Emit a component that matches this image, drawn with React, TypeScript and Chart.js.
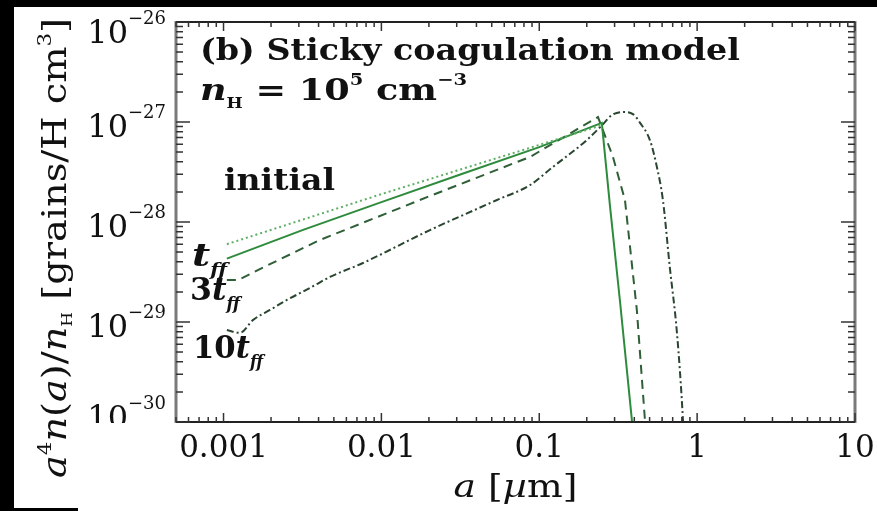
import React, { useEffect, useRef } from "react";
import { Chart, registerables } from "chart.js";

Chart.register(...registerables);

// ---- axis ranges & ticks ----
const X_MIN = 5e-4;
const X_MAX = 10;
const Y_MIN = 1e-30;
const Y_MAX = 1e-26;
const xTickValues = [0.001, 0.01, 0.1, 1, 10];
const xTickLabels = ["0.001", "0.01", "0.1", "1", "10"];
const yTickValues = [1e-26, 1e-27, 1e-28, 1e-29, 1e-30];
const yTickExponents = [-26, -27, -28, -29, -30];

// ---- series: grain radius a [µm] and a^4 n(a)/n_H ----
const initialA = [0.00105, 0.01, 0.1, 0.249];
const initialV = [6.0e-29, 1.9e-28, 5.9e-28, 9.3e-28];

const tffA = [0.00105, 0.00316, 0.01, 0.0316, 0.1, 0.249, 0.281, 0.324, 0.386, 0.392];
const tffV = [4.3e-29, 8.3e-29, 1.58e-28, 2.99e-28, 5.6e-28, 9.8e-28, 1.41e-28, 1.66e-29, 1.05e-30, 5e-31];

const t3A = [0.00105, 0.00124, 0.00165, 0.00408, 0.0203, 0.0873, 0.2355, 0.293, 0.349, 0.415, 0.467, 0.475];
const t3V = [2.63e-29, 2.63e-29, 3.31e-29, 6.61e-29, 1.82e-28, 4.47e-28, 1.12e-27, 4.47e-28, 1.66e-28, 1.32e-29, 1.05e-30, 5e-31];

const t10A = [0.00105, 0.00127, 0.00154, 0.00197, 0.00252, 0.00353, 0.00472, 0.00764, 0.0203, 0.054, 0.0873, 0.122, 0.2, 0.25, 0.288, 0.339, 0.392, 0.435, 0.502, 0.556, 0.607, 0.671, 0.745, 0.813, 0.83];
const t10V = [8.3e-30, 7.8e-30, 1.05e-29, 1.32e-29, 1.66e-29, 2.19e-29, 2.82e-29, 3.89e-29, 8.3e-29, 1.66e-28, 2.34e-28, 3.55e-28, 6.6e-28, 9.3e-28, 1.17e-27, 1.26e-27, 1.2e-27, 9.8e-28, 6.6e-28, 3.55e-28, 1.66e-28, 3.55e-29, 7.8e-30, 1.05e-30, 5e-31];

const FONT = '"DejaVu Serif", "Liberation Serif", serif';

type Seg = { t: string; size: number; italic?: boolean; bold?: boolean; dy?: number };

function segFont(s: Seg) {
  return `${s.italic ? "italic " : ""}${s.bold ? "bold " : ""}${s.size}px ${FONT}`;
}

function drawRich(
  ctx: CanvasRenderingContext2D,
  segs: Seg[],
  x: number,
  y: number,
  align: "left" | "center" | "right" = "left",
  fitWidth?: number
) {
  ctx.save();
  ctx.textAlign = "left";
  ctx.textBaseline = "alphabetic";
  const widths = segs.map((s) => {
    ctx.font = segFont(s);
    return ctx.measureText(s.t).width;
  });
  const total = widths.reduce((a, b) => a + b, 0);
  const sc = fitWidth ? fitWidth / total : 1;
  const w = total * sc;
  let sx = x;
  if (align === "center") sx = x - w / 2;
  else if (align === "right") sx = x - w;
  ctx.translate(sx, y);
  ctx.scale(sc, 1);
  let cx = 0;
  segs.forEach((s, i) => {
    ctx.font = segFont(s);
    ctx.fillText(s.t, cx, s.dy || 0);
    cx += widths[i];
  });
  ctx.restore();
}

const decorPlugin = {
  id: "decor",
  beforeDraw(chart: any) {
    const ctx: CanvasRenderingContext2D = chart.ctx;
    const W = chart.width;
    const H = chart.height;
    ctx.save();
    ctx.fillStyle = "#000";
    ctx.fillRect(0, 0, W, H);
    ctx.fillStyle = "#fff";
    ctx.fillRect(14, 7, W - 14, H - 7);
    ctx.fillStyle = "#000";
    ctx.fillRect(14, H - 3, 64, 3);
    ctx.restore();
  },
  afterDraw(chart: any) {
    const ctx: CanvasRenderingContext2D = chart.ctx;
    const { left, right, top, bottom } = chart.chartArea;
    const xs = chart.scales.x;
    const ys = chart.scales.y;
    ctx.save();

    // axis frame
    ctx.lineCap = "butt";
    ctx.strokeStyle = "#7a7a7a";
    ctx.lineWidth = 3;
    ctx.beginPath();
    ctx.moveTo(left, top - 1);
    ctx.lineTo(left, bottom + 1);
    ctx.moveTo(right, top - 1);
    ctx.lineTo(right, bottom + 1);
    ctx.stroke();
    ctx.strokeStyle = "#222";
    ctx.lineWidth = 2;
    ctx.beginPath();
    ctx.moveTo(left, top);
    ctx.lineTo(right, top);
    ctx.moveTo(left, bottom);
    ctx.lineTo(right, bottom);
    ctx.stroke();

    // x ticks (bottom & top, inward)
    ctx.strokeStyle = "#333";
    ctx.lineWidth = 1.5;
    ctx.beginPath();
    for (let d = -4; d <= 1; d++) {
      for (let k = 1; k <= 9; k++) {
        const v = k * Math.pow(10, d);
        if (v < X_MIN * 0.999 || v > X_MAX * 1.001) continue;
        const px = xs.getPixelForValue(v);
        const len = k === 1 ? 9 : 5;
        ctx.moveTo(px, bottom);
        ctx.lineTo(px, bottom - len);
        ctx.moveTo(px, top);
        ctx.lineTo(px, top + len);
      }
    }
    // y ticks (left & right, inward)
    for (let d = -30; d <= -26; d++) {
      for (let k = 1; k <= 9; k++) {
        const v = k * Math.pow(10, d);
        if (v < Y_MIN * 0.999 || v > Y_MAX * 1.001) continue;
        const py = ys.getPixelForValue(v);
        const len = k === 1 ? 14 : 7;
        ctx.moveTo(left, py);
        ctx.lineTo(left + len, py);
        ctx.moveTo(right, py);
        ctx.lineTo(right - len, py);
      }
    }
    ctx.stroke();

    ctx.fillStyle = "#111";

    // x tick labels
    xTickValues.forEach((v, i) => {
      drawRich(ctx, [{ t: xTickLabels[i], size: 31 }], xs.getPixelForValue(v), bottom + 35, "center");
    });

    // y tick labels
    yTickValues.forEach((v, i) => {
      const py = ys.getPixelForValue(v);
      const segs: Seg[] = [
        { t: "10", size: 32 },
        { t: "\u2212" + Math.abs(yTickExponents[i]), size: 18, dy: -19 },
      ];
      if (i === yTickValues.length - 1) {
        ctx.save();
        ctx.beginPath();
        ctx.rect(0, 0, left, bottom + 1);
        ctx.clip();
        drawRich(ctx, segs, left - 10, py + 6, "right");
        ctx.restore();
      } else {
        drawRich(ctx, segs, left - 10, py + (i === 0 ? 21 : 15), "right");
      }
    });

    // x axis title
    drawRich(
      ctx,
      [
        { t: "a", size: 31, italic: true },
        { t: " [", size: 31 },
        { t: "\u00b5", size: 31, italic: true },
        { t: "m]", size: 31 },
      ],
      (left + right) / 2,
      497,
      "center",
      124
    );

    // y axis title (rotated)
    ctx.save();
    ctx.translate(66, 248);
    ctx.rotate(-Math.PI / 2);
    drawRich(
      ctx,
      [
        { t: "a", size: 34, italic: true },
        { t: "4", size: 19, dy: -15 },
        { t: "n", size: 34, italic: true },
        { t: "(", size: 34 },
        { t: "a", size: 34, italic: true },
        { t: ")/", size: 34 },
        { t: "n", size: 34, italic: true },
        { t: "H", size: 15, dy: 6 },
        { t: " [grains/H cm", size: 34 },
        { t: "3", size: 19, dy: -15 },
        { t: "]", size: 34 },
      ],
      0,
      0,
      "center",
      460
    );
    ctx.restore();

    // annotations
    drawRich(ctx, [{ t: "(b) Sticky coagulation model", size: 30, bold: true }], 200, 60, "left", 540);
    drawRich(
      ctx,
      [
        { t: "n", size: 30, italic: true, bold: true },
        { t: "H", size: 14, bold: true, dy: 8 },
        { t: " = 10", size: 30, bold: true },
        { t: "5", size: 16, bold: true, dy: -15 },
        { t: " cm", size: 30, bold: true },
        { t: "\u22123", size: 16, bold: true, dy: -15 },
      ],
      200,
      100,
      "left",
      267
    );
    drawRich(ctx, [{ t: "initial", size: 30, bold: true }], 224, 190, "left", 111);
    drawRich(
      ctx,
      [
        { t: "t", size: 31, italic: true, bold: true },
        { t: "ff", size: 16, italic: true, bold: true, dy: 9 },
      ],
      192,
      266,
      "left",
      35
    );
    drawRich(
      ctx,
      [
        { t: "3", size: 31, bold: true },
        { t: "t", size: 31, italic: true, bold: true },
        { t: "ff", size: 16, italic: true, bold: true, dy: 9 },
      ],
      190,
      300,
      "left",
      50
    );
    drawRich(
      ctx,
      [
        { t: "10", size: 31, bold: true },
        { t: "t", size: 31, italic: true, bold: true },
        { t: "ff", size: 16, italic: true, bold: true, dy: 9 },
      ],
      193,
      358,
      "left",
      70
    );

    ctx.restore();
  },
};

function pts(a: number[], v: number[]) {
  return a.map((x, i) => ({ x, y: v[i] }));
}

export default function App() {
  const ref = useRef<HTMLCanvasElement | null>(null);
  useEffect(() => {
    if (!ref.current) return;
    const chart = new Chart(ref.current, {
      type: "line",
      data: {
        datasets: [
          {
            label: "initial",
            data: pts(initialA, initialV),
            borderColor: "#5eae64",
            borderWidth: 2,
            borderDash: [2, 3],
            pointRadius: 0,
            tension: 0,
          },
          {
            label: "t_ff",
            data: pts(tffA, tffV),
            borderColor: "#2e8b3c",
            borderWidth: 2,
            pointRadius: 0,
            tension: 0,
          },
          {
            label: "3t_ff",
            data: pts(t3A, t3V),
            borderColor: "#2f5f37",
            borderWidth: 2,
            borderDash: [9, 6],
            pointRadius: 0,
            tension: 0,
          },
          {
            label: "10t_ff",
            data: pts(t10A, t10V),
            borderColor: "#2a4630",
            borderWidth: 2,
            borderDash: [7, 3, 2, 3],
            pointRadius: 0,
            cubicInterpolationMode: "monotone",
          },
        ],
      },
      options: {
        animation: false,
        responsive: false,
        devicePixelRatio: 1,
        layout: { padding: { left: 176, top: 22, right: 22, bottom: 89 } },
        plugins: { legend: { display: false }, tooltip: { enabled: false } },
        scales: {
          x: { type: "logarithmic", min: X_MIN, max: X_MAX, display: false },
          y: { type: "logarithmic", min: Y_MIN, max: Y_MAX, display: false },
        },
      } as any,
      plugins: [decorPlugin],
    });
    return () => chart.destroy();
  }, []);
  return (
    <div style={{ position: "fixed", left: 0, top: 0, width: 877, height: 511 }}>
      <canvas ref={ref} width={877} height={511} style={{ display: "block" }} />
    </div>
  );
}
